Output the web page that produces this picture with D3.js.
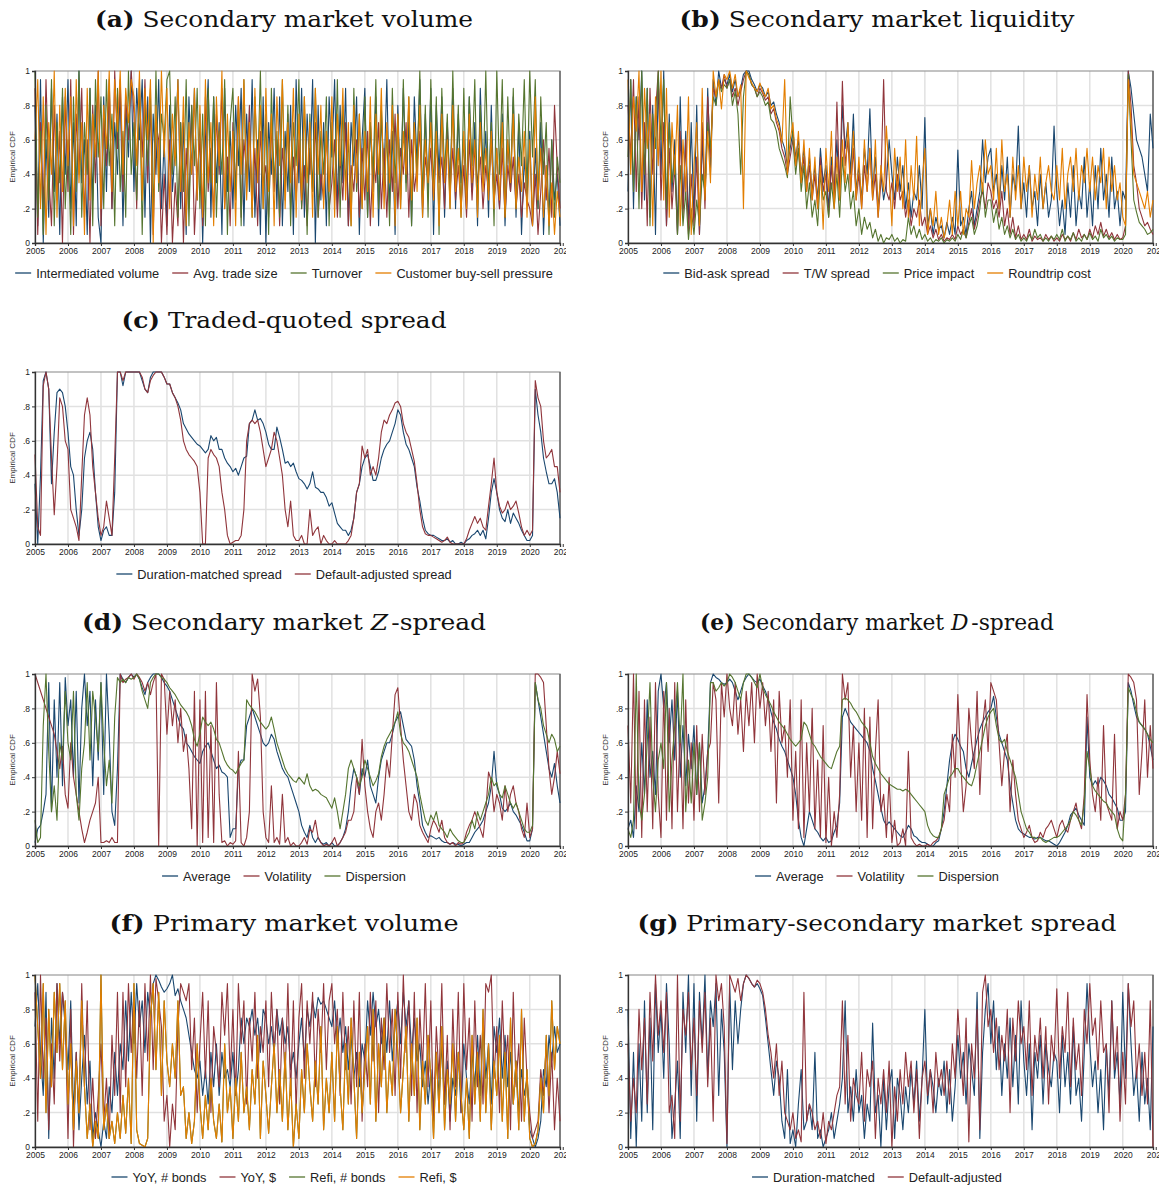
<!DOCTYPE html>
<head>
    <meta charset="utf-8">
    <script src="https://d3js.org/d3.v7.min.js"></script>
    <style>
        body { margin: 0; background: #fff; }
    </style>
</head>

<body>
    <div id="figure"></div>
</body>

<script>

    // monthly observations, Jan 2005 .. Dec 2020, empirical CDF in percent
    const nMonths = 192;
    const tickYears = d3.range(2005, 2022);
    const yTicks = [0, 20, 40, 60, 80, 100];
    const yTickLabels = ["0", ".2", ".4", ".6", ".8", "1"];

    // (a) secondary market volume
    const intermediatedVolume = [
        80,10,95,0,60,15,90,30,75,5,85,40,
        95,20,70,10,100,35,60,5,90,25,80,15,
        0,85,30,95,20,70,40,90,10,80,50,100,
        30,90,60,95,15,85,0,75,40,95,20,60,
        10,80,30,55,95,20,70,5,85,40,90,25,
        75,0,60,95,15,85,35,70,5,90,30,65,
        20,80,45,90,10,75,30,95,15,60,5,85,
        0,70,40,90,20,85,10,65,30,80,5,95,
        35,90,15,75,40,95,0,80,25,70,10,85,
        50,95,20,80,35,90,10,70,45,85,5,60,
        90,15,70,30,85,10,75,40,95,20,65,5,
        80,25,90,35,70,10,85,45,95,15,75,30,
        90,5,80,40,85,15,70,30,90,20,75,35,
        60,20,85,30,70,10,90,40,65,15,80,25,
        55,20,75,10,60,30,85,15,70,5,50,25,
        65,10,55,20,70,5,45,15,60,25,40,10];
    const avgTradeSize = [
        90,5,70,20,95,40,10,80,25,65,0,85,
        30,95,5,75,40,90,15,60,0,80,35,100,
        10,70,45,90,20,100,55,95,30,85,60,100,
        75,20,90,50,95,35,80,5,70,60,0,40,
        5,60,0,35,10,70,0,55,20,80,5,40,
        60,10,85,30,55,15,75,40,90,20,50,10,
        70,30,85,15,60,40,80,20,55,10,65,35,
        45,15,70,30,60,10,55,35,75,20,50,25,
        60,20,45,10,55,30,70,15,40,25,65,20,
        35,60,15,50,25,70,10,45,30,60,15,55,
        25,65,10,50,35,70,20,55,15,60,30,75,
        20,55,40,70,15,60,30,45,65,20,50,35,
        55,25,60,35,50,20,65,30,55,25,45,20,
        45,15,60,25,55,35,50,20,45,30,60,25,
        40,20,55,15,45,30,50,20,40,15,35,25,
        20,10,40,5,30,60,25,55,15,80,45,20];
    const turnover = [
        100,15,65,5,80,25,95,10,70,35,90,20,
        60,5,85,30,100,15,70,40,90,10,95,50,
        85,20,95,45,75,10,90,30,65,15,100,40,
        70,25,95,5,80,45,90,15,100,30,75,60,
        95,100,40,85,15,70,30,95,10,80,45,90,
        20,75,10,90,35,85,15,65,40,95,5,70,
        90,25,80,10,95,30,70,15,85,40,100,20,
        75,5,90,35,65,15,95,25,80,10,70,45,
        95,20,85,5,75,30,90,15,65,40,85,10,
        70,25,95,15,80,35,60,10,90,30,75,20,
        85,15,70,40,95,20,80,30,65,10,90,35,
        75,20,95,30,85,10,70,40,100,25,80,15,
        95,30,85,5,90,40,75,20,100,35,80,15,
        90,25,85,45,95,20,80,35,100,30,70,10,
        100,40,95,15,85,35,90,20,75,45,95,30,
        100,50,95,20,85,40,70,5,60,15,50,35];
    const buySellPressure = [
        60,95,20,85,5,70,40,100,15,80,30,90,
        45,85,10,95,35,70,5,90,25,75,50,100,
        20,80,55,100,30,95,65,100,40,90,70,95,
        85,45,100,25,90,60,95,0,80,35,100,50,
        90,20,75,45,95,30,85,10,70,40,90,25,
        80,15,95,35,70,10,85,45,100,20,75,30,
        65,10,85,40,95,25,70,15,90,35,80,20,
        90,30,75,10,85,45,95,20,70,35,90,15,
        75,25,85,35,70,15,90,40,80,20,65,30,
        85,15,75,45,90,25,70,10,80,35,75,20,
        65,30,85,15,75,40,90,20,70,35,80,10,
        75,20,65,40,85,25,70,30,80,15,60,35,
        70,25,65,10,75,35,60,20,80,30,55,15,
        65,20,75,35,60,15,70,30,55,25,65,20,
        55,25,70,15,60,35,75,20,50,30,65,15,
        60,10,85,25,55,15,45,10,35,5,30,15];

    // (b) secondary market liquidity
    const bidAskSpread = [
        30,95,20,85,60,100,25,90,15,80,5,95,
        40,100,10,75,30,60,5,85,20,65,10,70,
        15,80,5,60,25,90,40,95,80,100,90,95,
        92,98,88,95,85,90,98,100,100,95,92,88,
        92,90,85,88,80,82,75,70,60,55,45,55,
        65,50,60,40,55,35,50,30,45,25,55,35,
        45,20,50,30,60,25,80,55,70,40,75,30,
        45,25,55,40,78,30,50,20,40,25,35,60,
        40,25,50,30,45,20,35,15,30,25,45,20,
        73,10,20,5,15,8,10,3,12,5,15,5,
        54,10,15,5,20,30,10,20,30,60,35,50,
        55,30,40,20,45,25,50,15,40,30,68,20,
        35,15,45,20,30,10,40,20,35,15,25,68,
        30,10,25,5,35,15,45,10,30,20,50,15,
        35,10,45,20,55,25,40,15,50,20,30,10,
        30,25,100,90,75,60,55,50,40,30,75,55];
    const twSpread = [
        80,50,95,30,85,20,70,10,90,40,75,100,
        25,70,10,55,20,45,5,65,15,60,5,40,
        10,50,5,70,20,85,50,90,85,95,90,98,
        90,95,85,90,80,88,95,100,98,92,90,85,
        90,87,83,85,75,78,70,65,55,50,40,50,
        60,45,55,35,50,30,45,25,40,20,50,30,
        40,15,45,25,82,30,94,45,60,30,55,25,
        40,20,45,30,55,25,40,15,35,95,30,25,
        35,20,40,25,30,15,25,10,20,15,25,10,
        15,5,10,3,8,2,5,1,3,2,5,2,
        10,5,8,3,12,20,8,15,25,30,20,35,
        30,20,25,15,30,10,20,5,15,3,10,2,
        5,2,8,1,4,2,3,1,5,2,4,1,
        3,1,5,2,4,1,6,2,8,3,5,2,
        8,3,10,5,12,4,8,3,6,2,5,2,
        3,10,100,80,45,35,20,15,10,12,8,5];
    const priceImpact = [
        50,95,30,85,20,100,40,90,10,75,55,100,
        60,95,20,70,35,50,5,45,10,30,2,20,
        5,25,10,40,30,70,55,85,80,95,88,92,
        90,95,80,88,75,40,85,100,98,92,90,85,
        88,85,80,82,72,70,65,55,50,45,38,85,
        60,40,55,30,45,20,35,15,25,10,40,25,
        30,15,35,20,40,15,50,30,40,20,30,10,
        20,5,15,8,12,3,8,1,5,0,3,2,
        5,1,3,0,2,1,15,5,10,3,8,2,
        5,1,3,0,2,1,3,0,2,1,3,1,
        5,2,8,3,10,15,5,10,20,35,15,25,
        25,12,20,8,15,5,10,3,8,2,5,1,
        3,1,5,2,8,3,5,1,3,1,4,2,
        5,2,8,1,4,2,6,1,3,1,5,2,
        6,2,4,1,8,3,5,2,4,1,3,2,
        2,5,98,60,25,18,12,10,8,5,6,8];
    const roundtripCost = [
        95,40,85,65,100,30,90,55,75,10,85,45,
        100,25,90,15,70,40,80,10,60,30,85,5,
        45,70,10,90,25,65,35,100,85,95,78,98,
        95,100,90,98,85,92,20,100,96,93,90,88,
        93,88,85,90,78,80,72,68,58,95,40,60,
        70,45,65,35,60,30,55,25,50,20,45,8,
        55,30,65,20,50,25,60,35,70,30,65,25,
        50,20,60,30,55,25,60,15,45,30,68,40,
        10,55,30,50,20,60,15,45,25,62,10,35,
        55,5,20,10,30,5,15,3,10,25,5,30,
        10,30,5,20,15,48,20,35,45,30,60,40,
        45,25,55,20,60,30,40,15,50,25,45,20,
        50,30,45,15,40,25,50,20,35,45,30,25,
        45,25,55,20,40,50,30,55,25,45,35,55,
        30,50,25,45,35,55,20,50,30,45,25,35,
        15,10,95,70,40,35,30,25,20,30,15,25];

    // (c) traded-quoted spread
    const tqDuration = [
        35,0,40,95,100,90,35,65,88,90,88,80,
        65,45,40,20,5,20,50,60,65,55,30,10,
        2,8,10,5,5,30,100,100,92,100,100,100,
        100,100,100,95,90,88,97,100,100,100,100,97,
        93,93,88,85,82,78,70,67,64,62,60,58,
        57,55,53,55,63,60,62,55,55,50,47,45,
        42,44,40,45,50,51,70,72,78,72,73,70,
        65,58,55,55,68,62,55,47,48,45,47,42,
        38,37,35,32,35,42,33,32,30,30,27,22,
        24,18,12,10,8,8,5,8,15,30,35,45,
        50,52,45,37,37,42,50,55,58,60,65,70,
        78,75,65,58,55,50,45,33,25,15,8,6,
        5,5,4,3,2,2,3,1,2,0,0,1,
        0,2,3,5,6,8,5,8,3,15,30,38,
        30,20,15,13,20,12,18,15,12,8,5,2,
        2,5,90,75,65,50,42,35,35,38,30,15];
    const tqDefault = [
        52,10,5,92,100,90,50,17,45,85,80,60,
        55,20,15,10,2,40,75,85,75,45,30,15,
        5,10,25,15,5,50,100,100,95,100,100,100,
        100,100,100,97,90,88,95,98,100,100,100,97,
        93,93,88,85,80,72,60,55,52,50,48,45,
        30,0,0,50,55,52,50,45,30,20,5,0,
        1,2,2,5,20,60,70,72,70,72,65,55,
        45,50,55,65,60,50,40,20,10,25,5,2,
        2,5,0,0,20,5,8,10,0,5,2,0,
        0,2,0,0,0,0,2,5,15,30,35,57,
        50,55,40,45,40,50,65,72,70,75,78,82,
        83,80,70,65,62,55,48,35,20,10,6,5,
        5,4,3,2,1,2,4,1,0,0,0,0,
        0,3,8,12,16,12,15,10,8,22,35,50,
        30,22,18,20,25,20,22,25,18,10,5,8,
        5,8,95,85,80,60,50,52,55,45,45,30];

    // (d) secondary market Z-spread
    const zAverage = [
        2,10,12,20,30,95,20,85,40,95,35,98,
        70,85,40,90,25,80,100,70,90,35,85,50,
        95,30,100,65,20,12,45,100,97,95,98,100,
        98,100,97,92,88,95,98,100,100,100,98,95,
        93,90,85,80,75,70,68,60,58,55,52,50,
        48,55,58,60,55,50,45,47,43,42,40,5,
        10,10,45,50,50,70,75,80,75,70,65,60,
        58,60,65,62,55,50,45,42,40,35,30,25,
        20,12,8,5,12,5,2,5,2,1,2,0,
        2,0,0,2,5,10,20,35,45,40,30,45,
        40,50,35,30,25,40,50,55,60,60,65,72,
        75,78,70,62,60,58,50,35,25,12,8,5,
        6,5,4,5,3,2,2,1,2,1,1,0,
        1,2,2,5,8,10,12,15,20,25,35,55,
        35,30,22,20,22,25,20,18,15,12,8,3,
        3,10,95,85,75,65,55,45,40,48,35,25];
    const zVolatility = [
        100,null,null,null,null,null,null,65,55,45,58,30,
        22,60,40,30,20,10,2,8,15,20,25,40,
        2,2,3,2,5,2,2,100,95,97,98,100,
        97,100,98,95,90,95,88,95,100,0,100,97,
        65,90,70,85,60,80,55,65,45,10,90,0,
        85,2,90,5,70,2,95,30,2,3,0,2,
        1,3,55,2,0,5,20,100,90,97,75,20,
        5,2,35,2,5,1,30,2,5,0,2,0,
        0,2,5,1,10,8,15,5,2,0,1,0,
        2,5,0,2,5,8,15,15,20,40,30,62,
        35,20,10,5,20,25,15,30,50,40,65,88,
        92,70,50,35,20,15,30,25,12,8,5,2,
        10,15,12,8,15,5,2,1,2,0,2,1,
        2,8,12,15,20,15,10,5,20,43,38,20,
        30,25,15,35,20,30,35,25,20,10,5,25,
        5,10,100,100,98,95,70,45,30,40,55,42];
    const zDispersion = [
        15,2,5,70,100,55,20,35,15,60,50,90,
        60,50,90,30,15,45,60,95,50,90,75,55,
        95,60,35,50,25,75,98,95,97,95,98,97,
        98,100,97,90,85,80,95,98,100,100,98,97,
        95,92,90,88,85,82,80,78,75,70,62,58,
        65,75,72,70,72,68,62,60,55,50,47,45,
        44,42,45,48,50,85,82,80,78,75,72,70,
        68,70,75,68,60,55,50,45,42,40,38,37,
        40,38,36,42,35,32,33,32,30,29,28,25,
        22,28,20,10,20,30,45,50,45,40,35,40,
        50,45,40,35,38,42,52,58,62,65,68,72,
        78,65,60,58,55,50,45,40,30,22,15,12,
        18,15,20,12,10,8,5,10,7,5,3,2,
        2,5,8,15,10,20,15,20,25,30,40,35,
        37,30,28,35,30,25,22,25,20,15,10,8,
        8,12,95,85,80,70,65,60,65,62,55,58];

    // (e) secondary market D-spread
    const dAverage = [
        10,15,5,35,20,60,30,85,40,55,30,90,
        100,80,95,60,85,50,90,40,70,35,65,45,
        70,30,60,25,35,55,95,100,98,97,95,94,
        95,97,95,90,85,90,95,98,100,98,96,95,
        97,93,90,85,78,72,68,62,58,55,50,45,
        40,30,15,5,0,10,20,15,10,8,5,3,
        5,2,3,8,12,25,75,80,76,72,70,68,
        66,64,62,60,55,45,38,30,22,15,12,14,
        12,10,8,6,5,8,12,10,6,5,3,2,
        2,1,0,0,2,3,10,20,35,50,60,65,
        62,58,55,45,40,48,55,62,68,72,75,78,
        80,87,75,65,60,55,50,35,25,15,10,8,
        7,6,5,5,4,5,5,4,3,3,2,1,
        0,2,5,8,12,18,20,22,18,15,12,75,
        40,35,38,35,40,38,35,30,28,25,22,15,
        15,20,95,90,82,75,72,70,68,65,58,50];
    const dVolatility = [
        70,25,100,10,90,5,85,20,75,10,95,30,
        5,90,15,80,10,95,20,70,10,85,25,60,
        15,70,20,65,30,55,60,95,85,25,95,75,
        100,80,70,95,65,85,55,90,70,95,60,100,
        80,95,70,90,55,85,25,90,60,70,40,85,
        15,55,10,85,5,60,20,80,10,50,5,70,
        2,40,0,20,5,30,100,85,95,40,70,20,
        60,15,80,5,75,10,55,85,20,30,5,40,
        2,15,0,2,10,0,55,5,2,0,1,0,
        0,1,0,2,3,5,10,15,30,20,65,40,
        88,50,20,35,80,60,45,90,30,70,85,55,
        95,90,85,60,35,55,65,20,50,30,15,10,
        5,8,12,5,2,3,8,5,10,12,15,10,
        5,12,15,10,8,15,20,25,15,10,30,88,
        50,30,20,40,15,70,25,20,15,65,10,20,
        15,30,100,98,95,85,30,55,85,40,70,45];
    const dDispersion = [
        10,5,15,100,25,15,30,60,95,40,20,50,
        60,45,95,20,50,70,95,60,100,20,50,25,
        60,30,60,15,25,40,95,95,90,92,95,93,
        95,100,98,95,90,85,95,100,100,98,95,92,
        100,92,88,85,82,78,75,72,70,68,65,62,
        60,58,60,62,72,70,65,60,58,55,52,50,
        48,46,45,50,55,58,85,86,85,83,80,78,
        75,72,70,68,60,52,48,45,42,40,38,36,
        35,34,33,33,32,33,32,30,28,26,24,22,
        20,12,8,6,5,5,10,30,35,40,42,45,
        45,42,40,38,36,35,40,48,55,62,70,75,
        78,80,70,62,60,62,55,50,45,40,30,20,
        15,10,8,5,5,4,5,3,2,3,4,5,
        5,6,8,10,12,15,20,18,15,12,25,55,
        45,35,32,30,28,26,25,22,20,18,10,5,
        3,30,92,88,85,78,72,70,68,65,62,60];

    // (f) primary market volume
    const yoyBonds = [
        70,95,55,30,90,5,75,40,95,60,90,70,
        45,85,20,55,10,40,65,25,50,5,20,10,
        0,15,5,35,20,55,30,60,45,85,50,90,
        60,95,70,85,55,90,75,95,100,97,93,90,
        92,95,100,88,92,85,80,75,65,55,45,40,
        50,30,45,25,55,35,60,30,55,40,45,35,
        55,30,45,75,60,75,70,80,65,75,55,80,
        75,60,70,55,80,65,75,60,70,45,55,40,
        60,75,50,80,70,85,75,87,83,85,80,75,
        70,85,60,75,55,70,45,65,40,55,35,60,
        50,85,65,90,70,80,60,75,55,85,50,70,
        85,60,90,70,85,55,75,50,60,35,50,25,
        45,20,55,30,60,25,50,15,40,30,55,20,
        60,40,25,55,35,65,30,75,40,60,25,70,
        55,75,40,65,35,55,25,50,20,45,30,40,
        10,5,0,5,15,45,35,65,50,70,55,60];
    const yoyDollars = [
        90,15,100,40,75,10,60,25,95,50,90,75,
        5,80,0,55,20,95,35,85,10,40,5,30,
        60,15,40,5,65,30,90,20,90,35,95,55,
        90,40,85,30,95,50,100,45,98,85,70,15,
        30,0,25,10,70,95,90,85,95,45,75,20,
        60,90,40,85,20,70,55,35,90,65,95,40,
        80,30,95,60,85,25,75,50,90,40,70,55,
        85,35,90,55,80,25,75,40,95,30,85,20,
        75,95,40,85,60,90,35,80,55,95,45,85,
        95,60,80,30,90,45,70,25,85,35,90,15,
        60,35,90,50,85,20,75,45,95,55,80,30,
        90,40,100,55,85,30,90,20,80,45,95,35,
        85,15,70,40,95,25,65,10,80,35,90,20,
        95,45,75,15,85,35,65,25,95,90,100,40,
        70,20,85,45,65,10,90,35,60,15,75,40,
        20,5,10,15,45,30,60,20,55,10,40,15];
    const refiDollars = [
        100,70,40,95,20,80,35,90,55,95,45,85,
        25,60,10,50,20,85,35,5,25,0,15,5,
        100,10,25,5,15,2,20,5,30,8,40,2,
        95,10,2,1,0,5,75,95,45,90,30,85,
        50,35,60,40,85,30,35,5,20,2,15,60,
        25,5,30,10,40,15,5,25,3,60,20,35,
        5,40,15,55,20,35,10,45,25,65,5,50,
        30,8,35,60,20,45,15,55,10,40,0,25,
        5,45,20,60,35,15,50,25,70,10,40,20,
        55,15,70,35,10,60,25,75,40,5,55,20,
        45,70,25,80,15,60,35,75,20,50,30,80,
        55,20,45,70,15,60,30,75,10,50,25,65,
        40,5,55,20,70,10,45,25,60,15,55,30,
        10,40,5,65,25,55,15,80,20,60,10,50,
        30,65,15,55,5,75,25,50,10,80,15,45,
        5,0,2,10,40,20,65,30,85,45,70,60];
    // refinancing counts track the dollar series and sit hidden beneath it
    const refiBonds = refiDollars;

    // (g) primary-secondary market spread
    const psDuration = [
        80,5,55,0,60,15,85,20,75,10,95,55,
        80,40,95,60,5,25,50,5,90,55,100,30,
        95,15,90,60,100,40,85,70,95,30,80,55,
        0,95,45,85,60,80,95,100,98,95,93,95,
        92,88,75,60,45,30,50,40,15,5,45,2,
        10,0,25,45,10,15,25,10,55,5,10,0,
        5,10,20,5,15,25,40,85,20,35,15,45,
        20,30,5,25,15,72,20,30,0,40,10,35,
        45,5,40,30,10,35,20,45,25,50,15,40,
        80,25,45,35,20,40,30,50,20,45,15,35,
        65,40,55,25,60,45,30,90,5,55,80,95,
        60,85,45,70,30,60,40,75,35,65,25,85,
        50,30,60,10,55,40,65,25,60,45,35,55,
        50,20,65,35,55,25,70,30,40,15,55,95,
        60,35,50,20,45,10,60,30,85,40,55,25,
        90,40,95,60,30,45,15,55,25,40,10,70];
    const psDefault = [
        60,15,40,20,80,45,75,25,90,50,100,65,
        85,55,90,20,30,5,100,15,80,65,90,45,
        75,30,85,55,90,35,75,15,100,85,95,70,
        2,100,95,90,98,85,95,100,98,95,93,97,
        95,90,80,65,55,40,60,30,50,20,15,10,
        20,5,10,3,90,15,25,20,10,15,5,20,
        2,15,10,20,30,35,85,25,65,15,40,30,
        25,55,15,45,35,50,5,40,25,45,20,50,
        0,35,15,45,25,55,35,50,20,45,5,40,
        50,30,45,20,55,35,45,30,50,25,60,40,
        80,55,30,75,3,60,40,80,10,90,100,70,
        80,55,75,45,65,50,80,20,75,50,85,60,
        70,45,85,30,65,50,75,40,70,25,65,50,
        92,40,70,55,90,35,75,45,60,30,80,60,
        95,65,75,45,85,55,60,20,85,45,70,15,
        55,25,95,70,85,40,60,30,55,25,85,0];

    const navy = "#1a476f", maroon = "#90353b", green = "#55752f", orange = "#e37e00";

    const panels = [
        {col: 0, row: 0, title: [["(a)", "bold"], [" Secondary market volume"]], titleWidth: 378,
         series: [["Intermediated volume", navy, intermediatedVolume], ["Avg. trade size", maroon, avgTradeSize],
                  ["Turnover", green, turnover], ["Customer buy-sell pressure", orange, buySellPressure]]},
        {col: 1, row: 0, title: [["(b)", "bold"], [" Secondary market liquidity"]], titleWidth: 395,
         series: [["Bid-ask spread", navy, bidAskSpread], ["T/W spread", maroon, twSpread],
                  ["Price impact", green, priceImpact], ["Roundtrip cost", orange, roundtripCost]]},
        {col: 0, row: 1, title: [["(c)", "bold"], [" Traded-quoted spread"]], titleWidth: 325,
         series: [["Duration-matched spread", navy, tqDuration], ["Default-adjusted spread", maroon, tqDefault]]},
        {col: 0, row: 2, title: [["(d)", "bold"], [" Secondary market "], ["Z", "italic"], ["-spread", "after"]], titleWidth: 404,
         series: [["Average", navy, zAverage], ["Volatility", maroon, zVolatility], ["Dispersion", green, zDispersion]]},
        {col: 1, row: 2, title: [["(e)", "bold"], [" Secondary market "], ["D", "italic"], ["-spread", "after"]], titleWidth: 354,
         series: [["Average", navy, dAverage], ["Volatility", maroon, dVolatility], ["Dispersion", green, dDispersion]]},
        {col: 0, row: 3, title: [["(f)", "bold"], [" Primary market volume"]], titleWidth: 349,
         series: [["YoY, # bonds", navy, yoyBonds], ["YoY, $", maroon, yoyDollars],
                  ["Refi, # bonds", green, refiBonds], ["Refi, $", orange, refiDollars]]},
        {col: 1, row: 3, title: [["(g)", "bold"], [" Primary-secondary market spread"]], titleWidth: 479,
         series: [["Duration-matched", navy, psDuration], ["Default-adjusted", maroon, psDefault]]}
    ];

    const W = 1161, H = 1187;
    const colX = [0, 593], rowY = [0, 301, 603, 904];
    const margin = {top: 71, left: 35},
        width = 525, height = 172;

    const svg = d3.select("#figure")
        .append("svg")
            .attr("width", W)
            .attr("height", H)
            .style("font-family", "'Liberation Sans', Arial, sans-serif");

    svg.append("rect").attr("width", W).attr("height", H).attr("fill", "#fff");

    svg.append("defs").append("clipPath")
        .attr("id", "panelClip")
        .append("rect")
            .attr("x", -40).attr("y", -10)
            .attr("width", width + 46).attr("height", 40);

    const x = d3.scaleLinear()
        .domain([2005, 2005 + (nMonths - 1) / 12])
        .range([0, width]);
    const y = d3.scaleLinear()
        .domain([0, 100])
        .range([height, 0]);

    panels.forEach(p => {
        const g = svg.append("g")
            .attr("transform", `translate(${colX[p.col]},${rowY[p.row]})`);

        // title
        const title = g.append("text")
            .attr("x", 284)
            .attr("y", 27)
            .attr("text-anchor", "middle")
            .attr("textLength", p.titleWidth)
            .attr("lengthAdjust", "spacingAndGlyphs")
            .style("font-family", "'DejaVu Serif', 'Liberation Serif', serif")
            .style("font-size", "23px")
            .attr("fill", "#111");
        p.title.forEach(([t, style]) => {
            title.append("tspan")
                .text(t)
                .attr("dx", style === "after" ? 3 : 0)
                .style("font-weight", style === "bold" ? "bold" : "normal")
                .style("font-style", style === "italic" ? "italic" : "normal");
        });

        const plot = g.append("g")
            .attr("transform", `translate(${margin.left},${margin.top})`);

        // grid
        plot.append("g")
            .selectAll("line")
            .data(tickYears.filter(d => d > 2005 && x(d) < width))
            .join("line")
                .attr("x1", d => x(d)).attr("x2", d => x(d))
                .attr("y1", 0).attr("y2", height)
                .attr("stroke", "#e1e1e1")
                .attr("stroke-width", 1.5);
        plot.append("g")
            .selectAll("line")
            .data(yTicks.filter(d => d > 0 && d < 100))
            .join("line")
                .attr("x1", 0).attr("x2", width)
                .attr("y1", d => y(d)).attr("y2", d => y(d))
                .attr("stroke", "#e1e1e1")
                .attr("stroke-width", 1.5);

        // frame
        plot.append("rect")
            .attr("width", width)
            .attr("height", height)
            .attr("fill", "none")
            .attr("stroke", "#9a9a9a")
            .attr("stroke-width", 1.2);
        plot.append("line")
            .attr("x1", width).attr("x2", width)
            .attr("y1", 0).attr("y2", height)
            .attr("stroke", "#555")
            .attr("stroke-width", 1.2);

        // series
        const line = d3.line()
            .x(d => x(d[0]))
            .y(d => y(d[1]));
        p.series.forEach(([name, color, values]) => {
            const pts = values
                .map((v, i) => [2005 + i / 12, v])
                .filter(d => d[1] !== null);
            plot.append("path")
                .datum(pts)
                .attr("fill", "none")
                .attr("stroke", color)
                .attr("stroke-width", 1.1)
                .attr("stroke-linejoin", "round")
                .attr("d", line);
        });

        // x axis
        const xAxis = plot.append("g")
            .attr("transform", `translate(0,${height})`)
            .attr("clip-path", "url(#panelClip)")
            .call(d3.axisBottom(x)
                .tickValues(tickYears)
                .tickFormat(d3.format("d"))
                .tickSize(3)
                .tickPadding(2));
        xAxis.select(".domain").attr("stroke", "#333").attr("stroke-width", 1.3);
        xAxis.selectAll(".tick line").attr("stroke", "#333");
        xAxis.selectAll(".tick text")
            .style("font-size", "8.5px")
            .style("font-family", "'Liberation Sans', Arial, sans-serif")
            .attr("fill", "#222");

        // y axis
        const yAxis = plot.append("g")
            .call(d3.axisLeft(y)
                .tickValues(yTicks)
                .tickFormat((d, i) => yTickLabels[i])
                .tickSize(3)
                .tickPadding(2));
        yAxis.select(".domain").attr("stroke", "#333").attr("stroke-width", 1.3);
        yAxis.selectAll(".tick line").attr("stroke", "#333");
        yAxis.selectAll(".tick text")
            .style("font-size", "8.5px")
            .style("font-family", "'Liberation Sans', Arial, sans-serif")
            .attr("fill", "#222");

        g.append("text")
            .attr("transform", `translate(15,${margin.top + height / 2}) rotate(-90)`)
            .attr("text-anchor", "middle")
            .style("font-size", "8px")
            .attr("fill", "#333")
            .text("Empirical CDF");

        // legend
        const legend = g.append("g");
        let cursor = 0;
        p.series.forEach(([name, color]) => {
            const item = legend.append("g");
            item.append("line")
                .attr("x1", 0).attr("x2", 16)
                .attr("stroke", color)
                .attr("stroke-width", 1.3);
            const t = item.append("text")
                .attr("x", 21)
                .attr("y", 4.5)
                .style("font-size", "12.8px")
                .attr("fill", "#222")
                .text(name);
            const w = 21 + t.node().getComputedTextLength();
            item.attr("transform", `translate(${cursor},0)`);
            cursor += w + 13;
        });
        const total = cursor - 13;
        legend.attr("transform", `translate(${284 - total / 2},273)`);
    });

</script>
</html>
